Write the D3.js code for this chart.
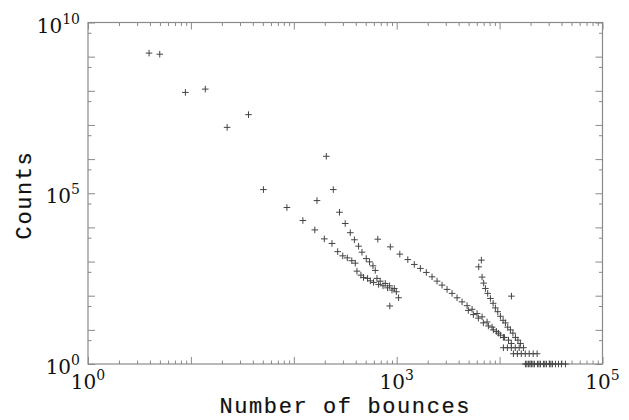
<!DOCTYPE html>
<html><head><meta charset="utf-8">
<script src="https://cdn.jsdelivr.net/npm/d3@7"></script>
<style>body{margin:0;background:#fff}svg{display:block}</style>
</head><body>
<svg id="c" width="629" height="420"></svg>
<script>
// Data
const bounces = [
  3.92, 4.98, 8.84, 13.8, 22.5, 36.3, 50.7, 85.7, 122.5, 160, 168, 207,
  242, 278, 316, 354, 388, 426, 460, 506, 545, 588, 619,
  198, 235, 267, 299, 331, 366, 396,
  411, 449, 476, 521, 554, 596, 643, 667, 692, 736, 774, 815, 853, 900, 948, 991, 1043, 857,
  655, 867, 1072, 1282, 1483, 1698, 1941, 2205, 2466, 2759, 3085, 3451, 3860, 4317, 4829, 5400, 6040, 6755, 7555, 8450, 9310, 10180, 11140, 12200, 13000,
  4970, 5560, 6220, 6955, 7780, 8700, 9730, 10890,
  6650, 6265, 6755, 7000, 7280, 7660, 8140, 8650, 9100, 9590, 10180, 10820, 11390, 11990, 12740, 13470, 14250, 15070, 15930,
  13030,
  10890, 11900, 13000, 14200, 15500, 17050,
  13620, 14880, 16250, 17750, 19400, 21200, 23150,
  17820, 18400, 19060, 19700, 20380, 21100, 21800, 23320, 24100, 24940, 26670, 27500, 28520, 30500, 31500, 32620, 34890, 37310, 39900, 43650
];
const counts = [
  1.27e9, 1.18e9, 8.98e7, 1.12e8, 8.5e6, 2.0e7, 1.28e5, 3.82e4, 1.59e4, 8450, 6.1e4, 1.21e6,
  1.28e5, 2.78e4, 1.30e4, 7000, 4340, 2820, 1880, 1220, 980, 749, 549,
  4610, 3380, 1950, 1470, 1280, 1060, 898,
  524, 400, 343, 321, 273, 245, 321, 214, 267, 195, 229, 170, 195, 146, 163, 130, 87, 50,
  4520, 2690, 1650, 1140, 823, 629, 480, 357, 267, 204, 153, 117, 87, 66, 51, 40, 30, 24, 17, 12, 9, 7, 6, 5, 4,
  37, 28, 22, 16, 13, 10, 8, 6,
  1099, 700, 350, 234, 163, 117, 83, 60, 44, 34, 25, 19, 16, 12, 10, 8, 6, 5, 4,
  97,
  3, 3, 3, 3, 3, 3,
  2, 2, 2, 2, 2, 2, 2,
  1, 1, 1, 1, 1, 1, 1, 1, 1, 1, 1, 1, 1, 1, 1, 1, 1, 1, 1, 1
];
const xDomain = [1, 1e5];
const yDomain = [1, 1e10];
const xLabelExps = [0, 3, 5];
const yLabelExps = [0, 5, 10];
const xTitle = "Number of bounces";
const yTitle = "Counts";

const svg = d3.select("#c");
const L = 88, R = 602.5, T = 22.5, B = 364;
const x = d3.scaleLog().domain(xDomain).range([L, R]);
const y = d3.scaleLog().domain(yDomain).range([B, T]);
const axisCol = "#8a8a8a";

// minor / major tick values
const xMajor = d3.range(0, 6).map(e => Math.pow(10, e));
const xMinor = [];
for (let e = 0; e < 5; e++) for (let m = 2; m <= 9; m++) xMinor.push(m * Math.pow(10, e));
const yMajor = d3.range(0, 11).map(e => Math.pow(10, e));
const yMinor = d3.range(0, 10).map(e => 5 * Math.pow(10, e));

function styleAxis(g){
  g.select(".domain").remove();
  g.selectAll("line").attr("stroke", axisCol).attr("stroke-width", 1);
  g.selectAll("text").remove();
}
const majLen = 7, minLen = 3.5;
[[xMajor, majLen], [xMinor, minLen]].forEach(([vals, len]) => {
  svg.append("g").attr("transform", `translate(0,${B})`)
    .call(d3.axisBottom(x).tickValues(vals).tickSize(-len)).call(styleAxis);
  svg.append("g").attr("transform", `translate(0,${T})`)
    .call(d3.axisTop(x).tickValues(vals).tickSize(-len)).call(styleAxis);
});
[[yMajor, majLen], [yMinor, minLen]].forEach(([vals, len]) => {
  svg.append("g").attr("transform", `translate(${L},0)`)
    .call(d3.axisLeft(y).tickValues(vals).tickSize(-len)).call(styleAxis);
  svg.append("g").attr("transform", `translate(${R},0)`)
    .call(d3.axisRight(y).tickValues(vals).tickSize(-len)).call(styleAxis);
});
svg.append("rect").attr("x", L).attr("y", T).attr("width", R - L).attr("height", B - T)
  .attr("fill", "none").attr("stroke", axisCol).attr("stroke-width", 1.2);

const fontFam = "'DejaVu Serif', serif";
// x tick labels
xLabelExps.forEach(e => {
  const t = svg.append("text").attr("x", x(Math.pow(10, e))).attr("y", 389)
    .attr("text-anchor", "middle").attr("font-family", fontFam).attr("font-size", 20).attr("fill", "#111");
  t.append("tspan").text("10");
  t.append("tspan").attr("dy", -9).attr("font-size", 14).text(String(e));
});
// y tick labels
yLabelExps.forEach(e => {
  const t = svg.append("text").attr("x", 80).attr("y", y(Math.pow(10, e)) + 10)
    .attr("text-anchor", "end").attr("font-family", fontFam).attr("font-size", 20).attr("fill", "#111");
  t.append("tspan").text("10");
  t.append("tspan").attr("dy", -9).attr("font-size", 14).text(String(e));
});

// titles
const titleFam = "'Liberation Mono', 'Courier New', monospace";
svg.append("text").attr("x", (L + R) / 2).attr("y", 413).attr("text-anchor", "middle")
  .attr("font-family", titleFam).attr("font-size", 22).attr("letter-spacing", 1.6).attr("fill", "#111")
  .attr("stroke", "#111").attr("stroke-width", 0.2).text(xTitle);
svg.append("text").attr("transform", `translate(31,${195}) rotate(-90)`).attr("text-anchor", "middle")
  .attr("font-family", titleFam).attr("font-size", 22).attr("letter-spacing", 1.6).attr("fill", "#111")
  .attr("stroke", "#111").attr("stroke-width", 0.2).text(yTitle);

// points
const pts = bounces.map((b, i) => [b, counts[i]]);
const s = 3.3;
svg.append("g").selectAll("path").data(pts).join("path")
  .attr("transform", d => `translate(${x(d[0])},${y(d[1])})`)
  .attr("d", `M${-s},0H${s}M0,${-s}V${s}`)
  .attr("stroke", "#444").attr("stroke-width", 1).attr("fill", "none");
</script>
</body></html>
